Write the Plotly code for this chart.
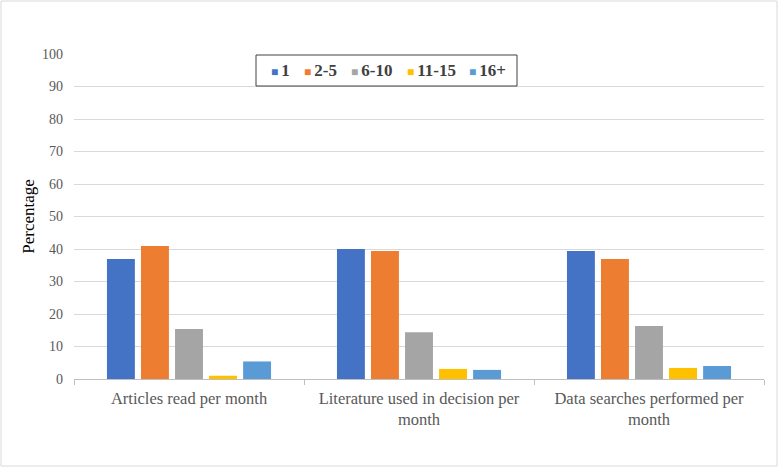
import plotly.graph_objects as go

categories = ["Articles read per month", "Literature used in decision per<br>month", "Data searches performed per<br>month"]
series_names = ["1", "2-5", "6-10", "11-15", "16+"]
v_1 = [36.9, 40.0, 39.4]
v_2_5 = [40.9, 39.4, 36.9]
v_6_10 = [15.4, 14.4, 16.3]
v_11_15 = [1.0, 3.1, 3.4]
v_16p = [5.4, 2.8, 4.0]
colors = ["#4472C4", "#ED7D31", "#A5A5A5", "#FFC000", "#5B9BD5"]
yticks = [0, 10, 20, 30, 40, 50, 60, 70, 80, 90, 100]

values = [v_1, v_2_5, v_6_10, v_11_15, v_16p]
SERIF = "Liberation Serif, Times New Roman, DejaVu Serif, serif"

fig = go.Figure()
for name, vals, c in zip(series_names, values, colors):
    fig.add_trace(go.Bar(x=categories, y=vals, name=name, marker_color=c, marker_line_width=0,
                         showlegend=False))

L, R, T, B = 74, 16, 54, 89
W, H = 780, 468
pw, ph = W - L - R, H - T - B


def px(x):
    return (x - L) / pw


def py(y):
    return (H - B - y) / ph


fig.update_layout(
    width=W, height=H,
    margin=dict(l=L, r=R, t=T, b=B, autoexpand=False),
    paper_bgcolor="white", plot_bgcolor="white",
    barmode="group", bargap=0.26, bargroupgap=0.18,
    font=dict(family=SERIF, color="#595959"),
    showlegend=False,
)
fig.update_yaxes(range=[0, 100], tickvals=yticks, showgrid=True, gridcolor="#d9d9d9", gridwidth=1,
                 zeroline=False, showline=False, ticks="", automargin=False, ticklabelstandoff=10,
                 tickfont=dict(family=SERIF, size=14, color="#595959"),
                 title=dict(text="Percentage", font=dict(family=SERIF, size=17, color="#000000"), standoff=3))
fig.update_xaxes(showline=True, linecolor="#bfbfbf", linewidth=1, ticks="outside", tickson="boundaries",
                 ticklen=5, tickcolor="#bfbfbf", automargin=False, ticklabelstandoff=4,
                 tickfont=dict(family=SERIF, size=16.5, color="#595959"))

# outer chart border
fig.add_shape(type="rect", xref="paper", yref="paper",
              x0=px(1), x1=px(777), y0=py(466), y1=py(1),
              line=dict(color="#d9d9d9", width=1), fillcolor="rgba(0,0,0,0)", layer="below")

# legend box and entries
fig.add_shape(type="rect", xref="paper", yref="paper",
              x0=px(256), x1=px(517), y0=py(86), y1=py(55),
              line=dict(color="#404040", width=1), fillcolor="white", layer="above")
legend_x = [269, 302, 349, 405, 467]
for name, c, lx in zip(series_names, colors, legend_x):
    fig.add_annotation(
        xref="paper", yref="paper", x=px(lx), y=py(70.5), xanchor="left", yanchor="middle",
        showarrow=False,
        text=f"<span style='color:{c};font-size:12px'>■ </span><b>{name}</b>",
        font=dict(family=SERIF, size=17, color="#404040"),
    )

fig.write_html("out.html", post_script="document.body.style.margin='0';",
               config={"displayModeBar": False})
